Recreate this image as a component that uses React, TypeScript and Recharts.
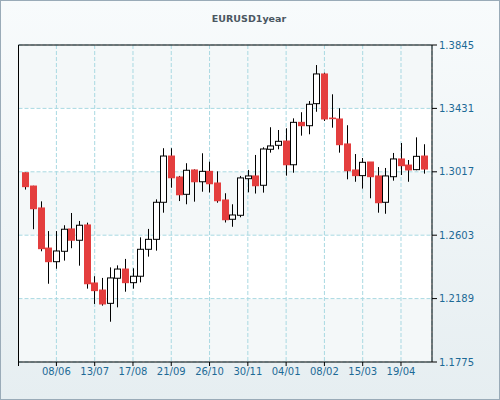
import { ComposedChart, Bar, XAxis, YAxis, CartesianGrid, ReferenceLine } from 'recharts';

// weekly EURUSD candles, one per week
const OPEN = [
  1.3011, 1.2924, 1.2781, 1.2519, 1.2430, 1.2498, 1.2644, 1.2570, 1.2670, 1.2291,
  1.2245, 1.2158, 1.2322, 1.2382, 1.2293, 1.2335, 1.2511, 1.2576, 1.2818, 1.3120,
  1.2983, 1.2870, 1.3029, 1.2952, 1.3020, 1.2944, 1.2833, 1.2707, 1.2733, 1.2972,
  1.2990, 1.2929, 1.3164, 1.3190, 1.3218, 1.3063, 1.3340, 1.3318, 1.3462, 1.3656,
  1.3368, 1.3362, 1.3199, 1.3029, 1.2992, 1.3081, 1.2990, 1.2818, 1.2985, 1.3101,
  1.3061, 1.3031, 1.3120,
];
const HIGH = [
  1.3013, 1.2926, 1.2824, 1.2630, 1.2630, 1.2668, 1.2748, 1.2696, 1.2685, 1.2335,
  1.2324, 1.2393, 1.2406, 1.2448, 1.2387, 1.2589, 1.2644, 1.2837, 1.3171, 1.3171,
  1.2990, 1.3073, 1.3033, 1.3138, 1.3083, 1.3020, 1.2877, 1.2805, 1.2990, 1.3029,
  1.3127, 1.3177, 1.3308, 1.3290, 1.3301, 1.3366, 1.3406, 1.3479, 1.3714, 1.3664,
  1.3523, 1.3432, 1.3321, 1.3133, 1.3107, 1.3081, 1.3048, 1.3042, 1.3140, 1.3205,
  1.3094, 1.3242, 1.3197,
];
const LOW = [
  1.2901, 1.2642, 1.2498, 1.2286, 1.2384, 1.2437, 1.2518, 1.2404, 1.2254, 1.2154,
  1.2143, 1.2038, 1.2132, 1.2234, 1.2254, 1.2295, 1.2463, 1.2502, 1.2750, 1.2913,
  1.2826, 1.2805, 1.2822, 1.2887, 1.2882, 1.2815, 1.2686, 1.2658, 1.2720, 1.2883,
  1.2875, 1.2881, 1.3142, 1.3164, 1.2992, 1.3011, 1.3253, 1.3262, 1.3409, 1.3349,
  1.3305, 1.3142, 1.2968, 1.2952, 1.2907, 1.2844, 1.2750, 1.2743, 1.2959, 1.2996,
  1.2952, 1.3027, 1.3005,
];
const CLOSE = [
  1.2920, 1.2776, 1.2515, 1.2430, 1.2500, 1.2642, 1.2570, 1.2668, 1.2286, 1.2241,
  1.2154, 1.2324, 1.2382, 1.2293, 1.2335, 1.2511, 1.2576, 1.2818, 1.3120, 1.2978,
  1.2867, 1.3027, 1.2952, 1.3020, 1.2939, 1.2828, 1.2704, 1.2735, 1.2977, 1.2990,
  1.2926, 1.3166, 1.3186, 1.3216, 1.3063, 1.3340, 1.3318, 1.3458, 1.3656, 1.3362,
  1.3364, 1.3194, 1.3024, 1.2992, 1.3079, 1.2985, 1.2815, 1.2990, 1.3101, 1.3057,
  1.3029, 1.3118, 1.3035,
];

const TICK_WEEKS = [4, 9, 14, 19, 24, 29, 34, 39, 44, 49];
const TICK_LABELS = ['08/06', '13/07', '17/08', '21/09', '26/10', '30/11', '04/01', '08/02', '15/03', '19/04'];
const PRICE_TICKS = [1.1775, 1.2189, 1.2603, 1.3017, 1.3431, 1.3845];

const X_MIN = -0.95;
const X_MAX = 53.05;
const Y_MIN = 1.1775;
const Y_MAX = 1.3845;
const FONT = '"DejaVu Sans", Verdana, sans-serif';
const LABEL_COLOR = '#1d6a96';
const FRAME = { stroke: '#000', strokeWidth: 1 };

const data = OPEN.map((o, i) => ({ i, o, h: HIGH[i], l: LOW[i], c: CLOSE[i], range: [LOW[i], HIGH[i]] }));

function Candle(props: any) {
  const { x, y, width, height, payload } = props;
  if (x == null || y == null || !payload) return null;
  const top = Math.min(y, y + height);
  const bottom = Math.max(y, y + height);
  const span = payload.h - payload.l;
  const k = span > 0 ? (bottom - top) / span : 0;
  const yOf = (v: number) => top + (payload.h - v) * k;
  const cx = Math.round(x + width / 2) + 0.5;
  const up = payload.c >= payload.o;
  const bTop = yOf(Math.max(payload.o, payload.c));
  const bBot = yOf(Math.min(payload.o, payload.c));
  return (
    <g>
      <line x1={cx} x2={cx} y1={top} y2={bottom} stroke="#000" strokeWidth={1} />
      {up ? (
        <rect x={cx - 3} y={bTop} width={6} height={Math.max(bBot - bTop, 1)} fill="#fff" stroke="#000" strokeWidth={1} />
      ) : (
        <rect x={cx - 3.5} y={bTop - 0.5} width={7} height={Math.max(bBot - bTop + 1, 1)} fill="#e43e3e" />
      )}
    </g>
  );
}

export default function App() {
  const xTicks = [X_MIN, ...TICK_WEEKS];
  return (
    <div style={{
      position: 'absolute', left: 0, top: 0, width: 500, height: 400, boxSizing: 'border-box',
      border: '1px solid #9aabb8', background: 'linear-gradient(#f8fbfc, #e6eef1)', fontFamily: FONT,
    }}>
      <div style={{ position: 'absolute', left: -1, top: -1 }}>
        <ComposedChart width={500} height={400} data={data} margin={{ top: 45, right: 8, bottom: 8, left: 18.5 }} style={{ fontFamily: FONT }}>
          <CartesianGrid stroke="#a9d9e2" strokeDasharray="4 2" horizontalFill={['#f4f8f9', '#ffffff']} fillOpacity={1} />
          <XAxis
            dataKey="i" type="number" domain={[X_MIN, X_MAX]} ticks={xTicks} allowDataOverflow
            tickFormatter={(v: number) => { const k = TICK_WEEKS.indexOf(v); return k >= 0 ? TICK_LABELS[k] : ''; }}
            axisLine={FRAME} tickSize={4} tickLine={{ stroke: '#000' }} height={30}
            tick={{ fontSize: 10, fill: LABEL_COLOR }} interval={0}
          />
          <YAxis
            orientation="right" domain={[Y_MIN, Y_MAX]} ticks={PRICE_TICKS} allowDataOverflow
            tickFormatter={(v: number) => v.toFixed(4)} axisLine={FRAME} tickSize={5} tickLine={{ stroke: '#000' }}
            width={60} tick={{ fontSize: 10, fill: LABEL_COLOR, textAnchor: 'start' }} interval={0}
          />
          <ReferenceLine y={Y_MAX} stroke="#000" strokeWidth={1} ifOverflow="visible" />
          <ReferenceLine x={X_MIN} stroke="#000" strokeWidth={1} ifOverflow="visible" />
          <Bar dataKey="range" barSize={7} shape={<Candle />} isAnimationActive={false} />
        </ComposedChart>
      </div>
      <div style={{ position: 'absolute', left: 0, top: 12, width: 496, textAlign: 'center', fontSize: 9.5, fontWeight: 'bold', color: '#4a5661' }}>
        EURUSD1year
      </div>
    </div>
  );
}
